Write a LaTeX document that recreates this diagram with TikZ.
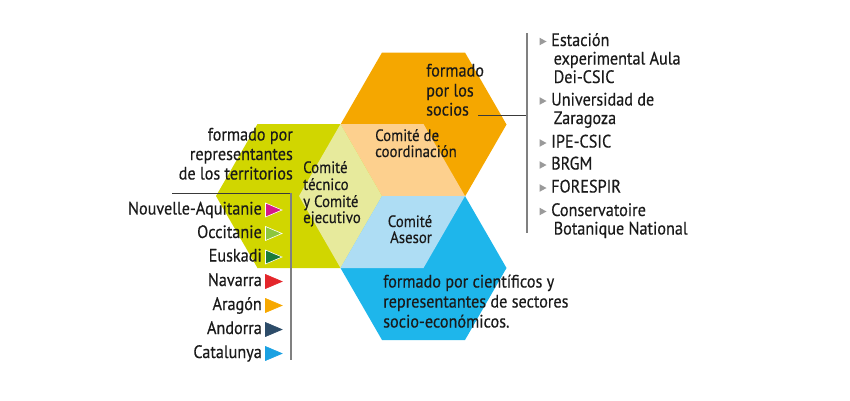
\documentclass[tikz,border=0pt]{standalone}
\usepackage{fontspec}
\setmainfont{PT Sans}[FakeStretch=0.9,FakeBold=0.4]
\definecolor{orangeH}{HTML}{F5A700}
\definecolor{greenH}{HTML}{D1D600}
\definecolor{blueH}{HTML}{1EB6EB}
\definecolor{paleO}{HTML}{FDD08E}
\definecolor{paleG}{HTML}{E7EA9C}
\definecolor{paleB}{HTML}{AEDDF4}
\definecolor{txtc}{HTML}{1A1A1A}
\definecolor{lineDark}{HTML}{3A3A3A}
\definecolor{lineGray}{HTML}{808080}
\definecolor{triGray}{HTML}{9A9A9A}
\definecolor{cNA}{HTML}{D6178A}
\definecolor{cOC}{HTML}{8CC63F}
\definecolor{cEU}{HTML}{1B7B3A}
\definecolor{cNV}{HTML}{E4262B}
\definecolor{cAR}{HTML}{F7A800}
\definecolor{cAN}{HTML}{2D4C69}
\definecolor{cCA}{HTML}{1BA1E2}
\begin{document}
\begin{tikzpicture}[x=1pt,y=-1pt,
  bigtxt/.style={inner sep=0, text=txtc, font=\fontsize{18}{21}\selectfont},
  hextxt/.style={inner sep=0, text=txtc, font=\fontsize{16.5}{19}\selectfont},
  listtxt/.style={inner sep=0, text=txtc, font=\fontsize{18}{21}\selectfont},
]
\useasboundingbox (0,0) rectangle (850,400);
% hexagons (side 83, half-height 72)
\def\hexpath(#1,#2){(#1,#2) ++(-83,0) -- ++(41.5,-72) -- ++(83,0) -- ++(41.5,72) -- ++(-41.5,72) -- ++(-83,0) -- cycle}
\fill[orangeH] \hexpath(423.5,124.5);
\fill[greenH] \hexpath(299,196);
\fill[blueH] \hexpath(423.5,268);
\coordinate (C) at (382,196);
\fill[paleO] (C) -- ++(-41.5,-72) -- ++(83,0) -- ++(41.5,72) -- cycle;
\fill[paleG] (C) -- ++(-41.5,-72) -- ++(-41.5,72) -- ++(41.5,72) -- cycle;
\fill[paleB] (C) -- ++(83,0) -- ++(-41.5,72) -- ++(-83,0) -- cycle;

% hexagon texts (baselines)
\node[hextxt, anchor=base west] (co1) at (375,141) {Comité de};
\node[hextxt, anchor=base west] (co2) at (375,157) {coordinación};
\node[hextxt, anchor=base west] (ct1) at (303,173) {Comité};
\node[hextxt, anchor=base west] (ct2) at (303,190) {técnico};
\node[hextxt, anchor=base west] (ct3) at (303,207) {y Comité};
\node[hextxt, anchor=base west] (ct4) at (303,223) {ejecutivo};
\node[hextxt, anchor=base] (ca1) at (410,227) {Comité};
\node[hextxt, anchor=base] (ca2) at (411,243) {Asesor};

\node[bigtxt, anchor=base west] (fs1) at (426,76.5) {formado};
\node[bigtxt, anchor=base west] (fs2) at (426,96.5) {por los};
\node[bigtxt, anchor=base west] (fs3) at (426,115.5) {socios};

\node[bigtxt, anchor=base west] (fc1) at (383,287.5) {formado por científicos y};
\node[bigtxt, anchor=base west] (fc2) at (383,307.5) {representantes de sectores};
\node[bigtxt, anchor=base west] (fc3) at (383,327.5) {socio-económicos.};

\node[bigtxt, anchor=base east] (ft1) at (293,140.5) {formado por};
\node[bigtxt, anchor=base east] (ft2) at (293,160) {representantes};
\node[bigtxt, anchor=base east] (ft3) at (293,179.5) {de los territorios};

% left list
\foreach \n/\yy/\t/\c/\o in {1/210/Nouvelle-Aquitanie/cNA/white,2/233.5/Occitanie/cOC/white,3/257/Euskadi/cEU/white,4/281.5/Navarra/cNV/cNV,5/305.5/Aragón/cAR/cAR,6/329.5/Andorra/cAN/cAN,7/353.5/Catalunya/cCA/cCA}{
  \node[listtxt, anchor=base east] (terr\n) at (262,\yy+4.5) {\t};
  \filldraw[fill=\c, draw=\o, line width=0.6pt] (265.5,\yy-7) -- (282,\yy) -- (265.5,\yy+7) -- cycle;
}
\coordinate (lh0) at (172,193);
\coordinate (lh1) at (291,193);
\coordinate (lv1) at (291,360);
\draw[lineDark, line width=1pt] (lh0) -- (lh1);
\draw[lineGray, line width=1.2pt] (lh1) -- (lv1);

% right list
\coordinate (rh0) at (478,115);
\coordinate (rh1) at (527,115);
\coordinate (rv0) at (527,33);
\coordinate (rv1) at (527,233);
\draw[lineDark, line width=1pt] (rh0) -- (rh1);
\draw[lineGray, line width=1.2pt] (rv0) -- (rv1);
\foreach \yy in {41.5,101,143,165,188,211.5}{
  \fill[triGray] (539.5,\yy-3.8) -- (546.5,\yy) -- (539.5,\yy+3.8) -- cycle;
}
\node[listtxt, anchor=base west] (s1) at (551,46) {Estación};
\node[listtxt, anchor=base west] (s1b) at (553.5,64.5) {experimental Aula};
\node[listtxt, anchor=base west] (s1c) at (553.5,83) {Dei-CSIC};
\node[listtxt, anchor=base west] (s2) at (551,105.5) {Universidad de};
\node[listtxt, anchor=base west] (s2b) at (553.5,124) {Zaragoza};
\node[listtxt, anchor=base west] (s3) at (551,147.5) {IPE-CSIC};
\node[listtxt, anchor=base west] (s4) at (551,169.5) {BRGM};
\node[listtxt, anchor=base west] (s5) at (551,192.5) {FORESPIR};
\node[listtxt, anchor=base west] (s6) at (551,216) {Conservatoire};
\node[listtxt, anchor=base west] (s6b) at (553.5,234.5) {Botanique National};
\end{tikzpicture}
\end{document}
